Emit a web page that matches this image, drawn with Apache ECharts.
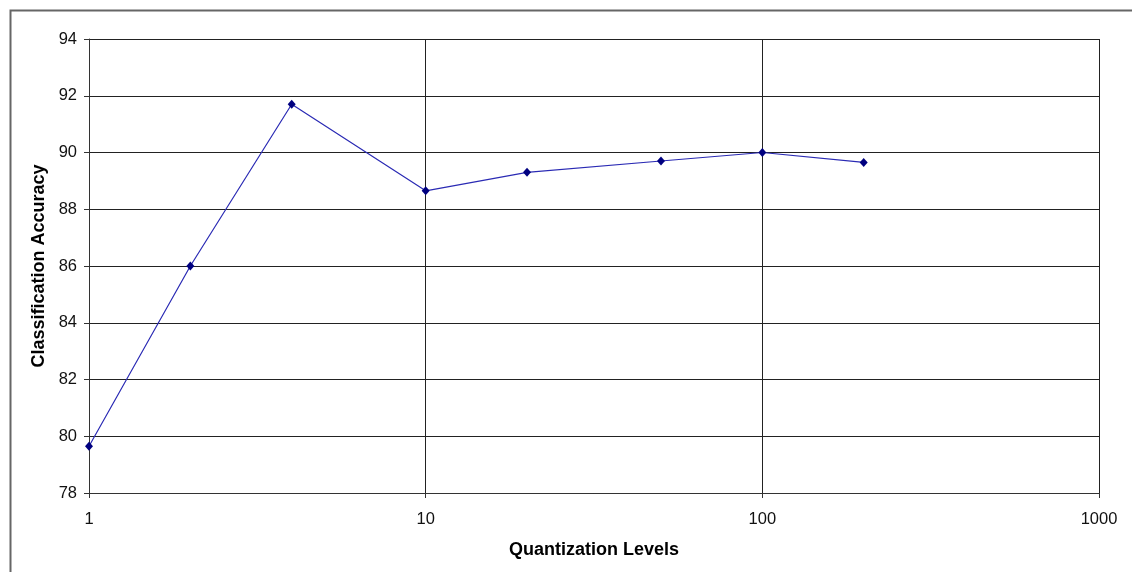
<!DOCTYPE html>
<html>
<head>
<meta charset="utf-8">
<script src="https://cdn.jsdelivr.net/npm/echarts@6/dist/echarts.min.js"></script>
<style>
  html, body { margin: 0; padding: 0; background: #fff; }
  #chart { width: 1132px; height: 572px; }
</style>
</head>
<body>
<div id="chart"></div>
<script>
// Quantization levels (log scale) and the resulting classification accuracy
const levels = [1, 2, 4, 10, 20, 50, 100, 200];
const accuracy = [79.65, 86.0, 91.7, 88.65, 89.3, 89.7, 90.0, 89.65];

const xTitle = 'Quantization Levels';
const yTitle = 'Classification Accuracy';

const font = 'Arial, "Liberation Sans", sans-serif';

const chart = echarts.init(document.getElementById('chart'), null, { renderer: 'canvas' });

chart.setOption({
  animation: false,
  backgroundColor: '#ffffff',
  graphic: [{
    type: 'rect',
    shape: { x: 10.5, y: 10.5, width: 1200, height: 700 },
    style: { fill: 'none', stroke: '#666666', lineWidth: 2 },
    silent: true,
    z: -1
  }],
  grid: { left: 89, top: 39, right: 33, bottom: 79, containLabel: false },
  xAxis: {
    type: 'log',
    logBase: 10,
    min: 1,
    max: 1000,
    name: xTitle,
    nameLocation: 'middle',
    nameGap: 48,
    nameTextStyle: { fontFamily: font, fontWeight: 'bold', fontSize: 18, color: '#000' },
    axisLine: { show: true, lineStyle: { color: '#333', width: 1 } },
    axisTick: { show: true, length: 5, inside: false, lineStyle: { color: '#333' } },
    minorTick: { show: false },
    axisLabel: {
      fontFamily: font, fontSize: 16.5, color: '#111', margin: 18,
      formatter: v => String(Math.round(v))
    },
    splitLine: { show: true, lineStyle: { color: '#222', width: 1 } }
  },
  yAxis: {
    type: 'value',
    min: 78,
    max: 94,
    interval: 2,
    name: yTitle,
    nameLocation: 'middle',
    nameGap: 41,
    nameRotate: 90,
    nameTextStyle: { fontFamily: font, fontWeight: 'bold', fontSize: 18, color: '#000' },
    axisLine: { show: true, lineStyle: { color: '#333', width: 1 } },
    axisTick: { show: true, length: 5, inside: false, lineStyle: { color: '#333' } },
    axisLabel: { fontFamily: font, fontSize: 16.5, color: '#111', margin: 12 },
    splitLine: { show: true, lineStyle: { color: '#222', width: 1 } }
  },
  series: [{
    type: 'line',
    data: levels.map((v, i) => [v, accuracy[i]]),
    symbol: 'diamond',
    symbolSize: [8, 9],
    showSymbol: true,
    itemStyle: { color: '#000080' },
    lineStyle: { color: '#2a2ab4', width: 1.2 },
    z: 5
  }]
});
</script>
</body>
</html>
